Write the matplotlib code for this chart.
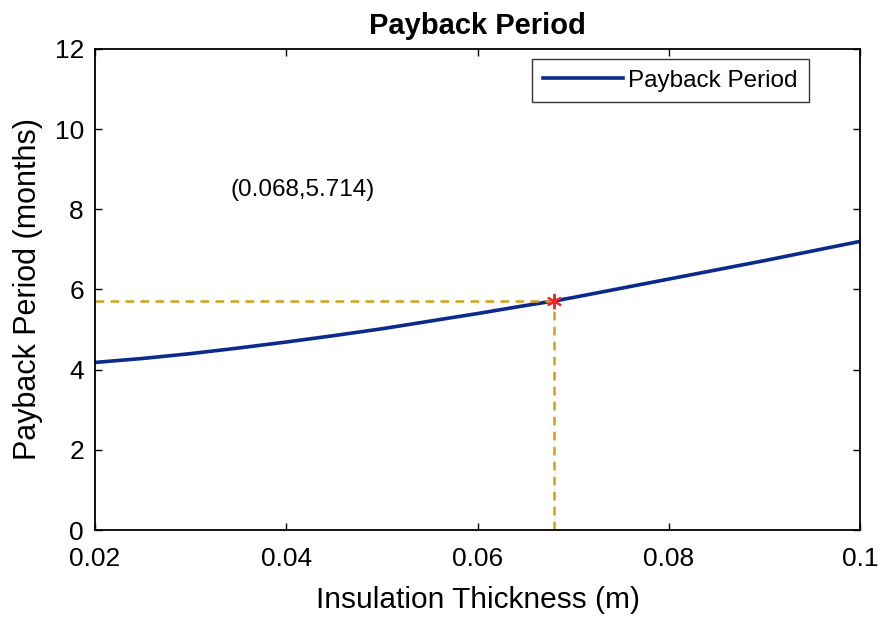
import matplotlib
matplotlib.use("Agg")
import matplotlib.pyplot as plt

plt.rcParams['font.family'] = ['Liberation Sans', 'DejaVu Sans']

# Payback period vs insulation thickness
thickness = [0.020, 0.025, 0.030, 0.035, 0.040, 0.045, 0.050, 0.055, 0.060,
             0.065, 0.068, 0.070, 0.075, 0.080, 0.085, 0.090, 0.095, 0.100]
payback = [4.18, 4.28, 4.40, 4.54, 4.69, 4.85, 5.02, 5.21, 5.40,
           5.60, 5.714, 5.80, 6.03, 6.26, 6.49, 6.72, 6.96, 7.20]

opt_x = 0.068
opt_y = 5.714

x_ticks = [0.02, 0.04, 0.06, 0.08, 0.1]
x_tick_labels = ['0.02', '0.04', '0.06', '0.08', '0.1']
y_ticks = [0, 2, 4, 6, 8, 10, 12]

fig = plt.figure(figsize=(8.83, 6.17), dpi=100)
ax = fig.add_axes([0.1076, 0.141, 0.8664, 0.7796])

line_color = '#0a2a8c'
guide_color = '#d4a017'

ax.plot(thickness, payback, color=line_color, linewidth=2.6, label='Payback Period')
ax.plot([0.02, opt_x], [opt_y, opt_y], linestyle=(0, (3.5, 2.5)), color=guide_color, linewidth=1.8)
ax.plot([opt_x, opt_x], [0, opt_y], linestyle=(0, (3.5, 2.5)), color=guide_color, linewidth=1.8)
ax.plot([opt_x], [opt_y], marker=(6, 2, 0), color='#ff2020', markersize=11,
        markeredgewidth=1.4, linestyle='none')

ax.text(0.0342, 8.48, f'({opt_x},{opt_y})', fontsize=17.5, va='center', ha='left')

ax.set_xlim(0.02, 0.1)
ax.set_ylim(0, 12)
ax.set_xticks(x_ticks)
ax.set_xticklabels(x_tick_labels)
ax.set_yticks(y_ticks)
ax.tick_params(direction='in', length=5, width=1, labelsize=19, top=True, right=True)
ax.tick_params(axis='x', pad=12)
ax.tick_params(axis='y', pad=8)
for s in ax.spines.values():
    s.set_linewidth(1.3)

ax.set_xlabel('Insulation Thickness (m)', fontsize=21.5, labelpad=11)
ax.set_ylabel('Payback Period (months)', fontsize=22, labelpad=8)
ax.set_title('Payback Period', fontsize=21, fontweight='bold', pad=11)

leg = ax.legend(loc='upper right', fontsize=17.5, frameon=True, fancybox=False,
                edgecolor='black', handlelength=3.3, handletextpad=0.2, borderpad=0.45,
                borderaxespad=0.0, bbox_to_anchor=(0.933, 0.98))
leg.get_frame().set_linewidth(1.0)

fig.savefig('out.png', dpi=100, facecolor='white')
